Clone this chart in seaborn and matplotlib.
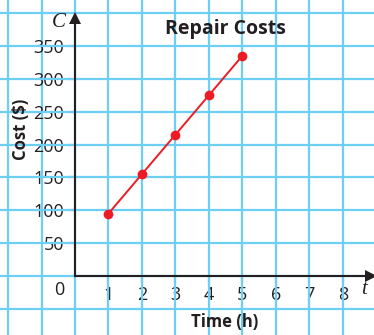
import matplotlib
matplotlib.use("Agg")
import matplotlib.pyplot as plt
import seaborn as sns
import pandas as pd

# Repair cost data
hours = [1, 2, 3, 4, 5]
cost = [95, 155, 215, 275, 335]

x_ticks = [1, 2, 3, 4, 5, 6, 7, 8]
y_ticks = [50, 100, 150, 200, 250, 300, 350]
x_grid = [-2, -1, 0, 1, 2, 3, 4, 5, 6, 7, 8]
y_grid = [-50, 0, 50, 100, 150, 200, 250, 300, 350, 400]

title = "Repair Costs"
x_label = "Time (h)"
y_label = "Cost ($)"

sns.set_style("white")
sans = ["Liberation Sans Narrow", "Open Sans", "DejaVu Sans"]
plt.rcParams["font.family"] = sans

ink = "#231F20"
grid_blue = "#6DCFF6"
red = "#ED1C24"

fig = plt.figure(figsize=(3.74, 3.35), dpi=100)
ax = fig.add_axes([0, 0, 1, 1])
ax.set_xlim(-2.24, 8.93)
ax.set_ylim(-89.7, 419.8)

# graph-paper grid on minor ticks (kept even where they meet major ticks)
ax.xaxis.remove_overlapping_locs = False
ax.yaxis.remove_overlapping_locs = False
ax.set_xticks(x_grid, minor=True)
ax.set_yticks(y_grid, minor=True)
ax.grid(True, which="minor", color=grid_blue, linewidth=1.6)
ax.grid(False, which="major")
ax.tick_params(which="minor", length=0)
ax.set_axisbelow(True)

# axes through the origin
for side in ["top", "right"]:
    ax.spines[side].set_visible(False)
ax.spines["left"].set_position(("data", 0))
ax.spines["bottom"].set_position(("data", 0))
ax.spines["left"].set_bounds(0, 388)
ax.spines["bottom"].set_bounds(0, 8.8)
for side in ["left", "bottom"]:
    ax.spines[side].set_color(ink)
    ax.spines[side].set_linewidth(1.5)
    ax.spines[side].set_zorder(4)

ax.set_xticks(x_ticks)
ax.set_yticks(y_ticks)
ax.tick_params(which="major", left=True, bottom=True, direction="out",
               length=5, width=1.5, color=ink, labelcolor=ink,
               labelsize=13, pad=2)
ax.tick_params(axis="y", pad=3)

# arrowheads
ax.plot(0, 392, marker="^", markersize=8, color=ink, clip_on=False,
        markeredgewidth=0, zorder=4)
ax.plot(8.84, 0, marker=">", markersize=8, color=ink, clip_on=False,
        markeredgewidth=0, zorder=4)

df = pd.DataFrame({"t": hours, "C": cost})
sns.lineplot(data=df, x="t", y="C", ax=ax, color=red, linewidth=1.4,
             marker="o", markersize=7, markeredgewidth=0, zorder=5)
ax.set_xlabel("")
ax.set_ylabel("")

ax.text(-0.48, -21, "0", ha="center", va="center", fontsize=13, color=ink)
ax.text(8.64, -21, "t", ha="center", va="center", fontsize=15, color=ink,
        family="Liberation Serif", style="italic")
ax.text(-0.48, 386, "C", ha="center", va="center", fontsize=15, color=ink,
        family="Liberation Serif", style="italic")
ax.text(4.48, 375, title, ha="center", va="center", fontsize=14,
        fontweight="bold", color=ink)
ax.text(4.48, -70, x_label, ha="center", va="center", fontsize=12,
        fontweight="bold", color=ink)
ax.text(-1.6, 223, y_label, ha="center", va="center", fontsize=12,
        fontweight="bold", color=ink, rotation=90)

fig.savefig("out.png", dpi=100)
